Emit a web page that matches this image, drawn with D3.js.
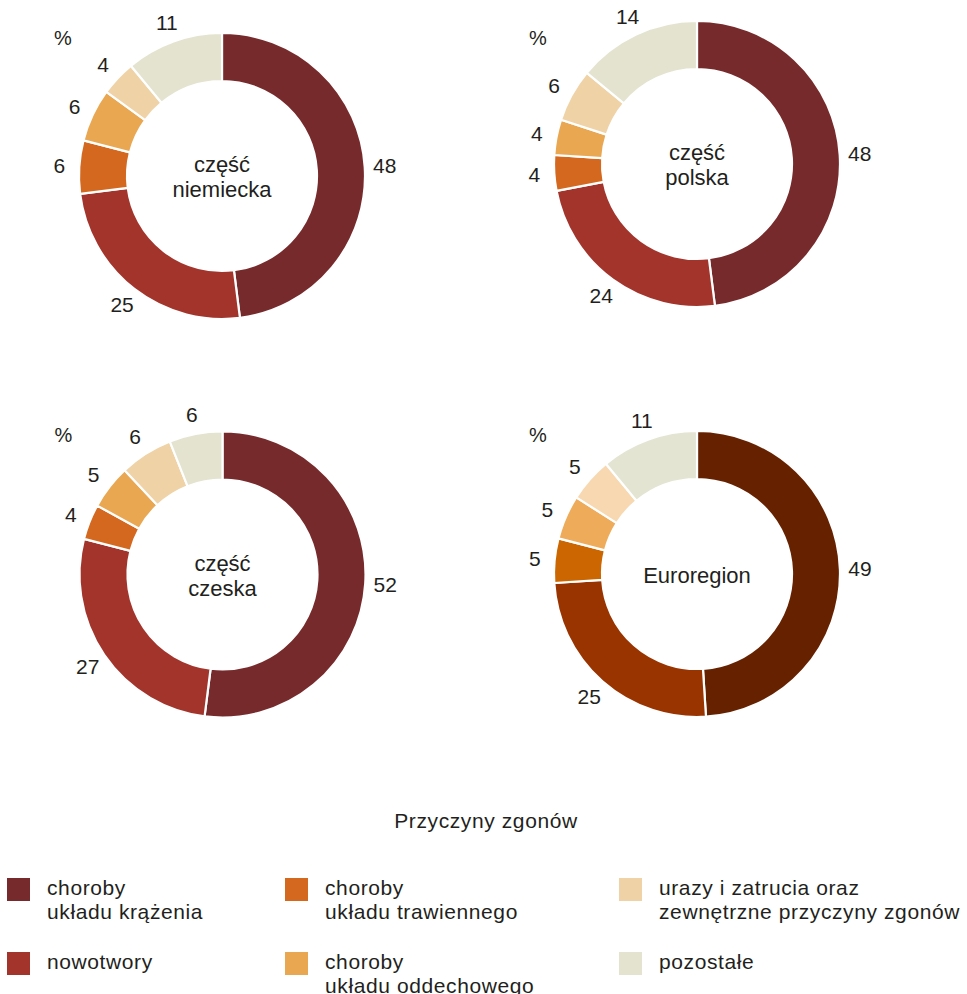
<!DOCTYPE html>
<html lang="pl">
<head>
<meta charset="utf-8">
<script src="https://cdn.jsdelivr.net/npm/d3@7"></script>
<style>
  html, body { margin: 0; padding: 0; background: #fff; }
  svg { display: block; }
  text { font-family: "Liberation Sans", Arial, Helvetica, sans-serif; fill: #231f20; }
</style>
</head>
<body>
<svg id="chart" width="967" height="994"></svg>
<script>
// Causes of death (order: clockwise from 12 o'clock)
const categories = [
  "choroby\nukładu krążenia",
  "nowotwory",
  "choroby\nukładu trawiennego",
  "choroby\nukładu oddechowego",
  "urazy i zatrucia oraz\nzewnętrzne przyczyny zgonów",
  "pozostałe"
];

// Region names (line-broken as shown in the ring centres)
const regionNames = ["część\nniemiecka", "część\npolska", "część\nczeska", "Euroregion"];

// Share of deaths, %
const valuesNiemiecka  = [48, 25, 6, 6, 4, 11];
const valuesPolska     = [48, 24, 4, 4, 6, 14];
const valuesCzeska     = [52, 27, 4, 5, 6, 6];
const valuesEuroregion = [49, 25, 5, 5, 5, 11];

const legendTitle = "Przyczyny zgonów";
const unitLabel = "%";

// Palettes
const partColors = ["#772a2b", "#a3342b", "#d4681f", "#e9a752", "#efd2a6", "#e3e3cf"];
const euroColors = ["#662200", "#993300", "#cc6600", "#eeac5a", "#f7d8b0", "#e4e4d2"];

const svg = d3.select("#chart");

const outerR = 143, innerR = 95, labelR = 163;

const panels = [
  { name: regionNames[0], values: valuesNiemiecka,  colors: partColors, cx: 222,   cy: 176,   py: 38 },
  { name: regionNames[1], values: valuesPolska,     colors: partColors, cx: 697,   cy: 164,   py: 38 },
  { name: regionNames[2], values: valuesCzeska,     colors: partColors, cx: 222.5, cy: 574.5, py: 435 },
  { name: regionNames[3], values: valuesEuroregion, colors: euroColors, cx: 697,   cy: 574,   py: 435 }
];

const pie = d3.pie().sort(null).value(d => d);
const arc = d3.arc().innerRadius(innerR).outerRadius(outerR);
const labelArc = d3.arc().innerRadius(labelR).outerRadius(labelR);

panels.forEach(p => {
  const color = d3.scaleOrdinal().domain(d3.range(categories.length)).range(p.colors);
  const g = svg.append("g").attr("transform", `translate(${p.cx},${p.cy})`);
  const arcs = pie(p.values);

  g.selectAll("path.slice")
    .data(arcs)
    .join("path")
    .attr("class", "slice")
    .attr("d", arc)
    .attr("fill", d => color(d.index))
    .attr("stroke", "#fff")
    .attr("stroke-width", 2.2)
    .attr("stroke-linejoin", "round");

  g.selectAll("text.value")
    .data(arcs)
    .join("text")
    .attr("class", "value")
    .attr("transform", d => `translate(${labelArc.centroid(d)})`)
    .attr("text-anchor", "middle")
    .attr("dominant-baseline", "central")
    .style("font-size", "21px")
    .text(d => d.data);

  const lines = p.name.split("\n");
  g.append("text")
    .attr("text-anchor", "middle")
    .style("font-size", "22px")
    .selectAll("tspan")
    .data(lines)
    .join("tspan")
    .attr("x", 0)
    .attr("y", (d, i) => (i - (lines.length - 1) / 2) * 25 + 1)
    .attr("dominant-baseline", "central")
    .text(d => d);

  svg.append("text")
    .attr("x", p.cx - 159)
    .attr("y", p.py)
    .attr("text-anchor", "middle")
    .attr("dominant-baseline", "central")
    .style("font-size", "20px")
    .text(unitLabel);
});

// Legend
svg.append("text")
  .attr("x", 486)
  .attr("y", 828)
  .attr("text-anchor", "middle")
  .style("font-size", "21px")
  .style("letter-spacing", "0.6px")
  .text(legendTitle);

const legendCols = [7, 285, 619];
const legendRows = [878, 952];
const legend = svg.append("g");
categories.forEach((c, i) => {
  const x = legendCols[Math.floor(i / 2)];
  const y = legendRows[i % 2];
  legend.append("rect")
    .attr("x", x).attr("y", y)
    .attr("width", 23).attr("height", 23)
    .attr("fill", partColors[i]);
  const t = legend.append("text")
    .attr("x", x + 40)
    .attr("y", y + 17)
    .style("font-size", "21px")
    .style("letter-spacing", "0.6px");
  c.split("\n").forEach((line, j) => {
    t.append("tspan").attr("x", x + 40).attr("dy", j === 0 ? 0 : 24).text(line);
  });
});
</script>
</body>
</html>
